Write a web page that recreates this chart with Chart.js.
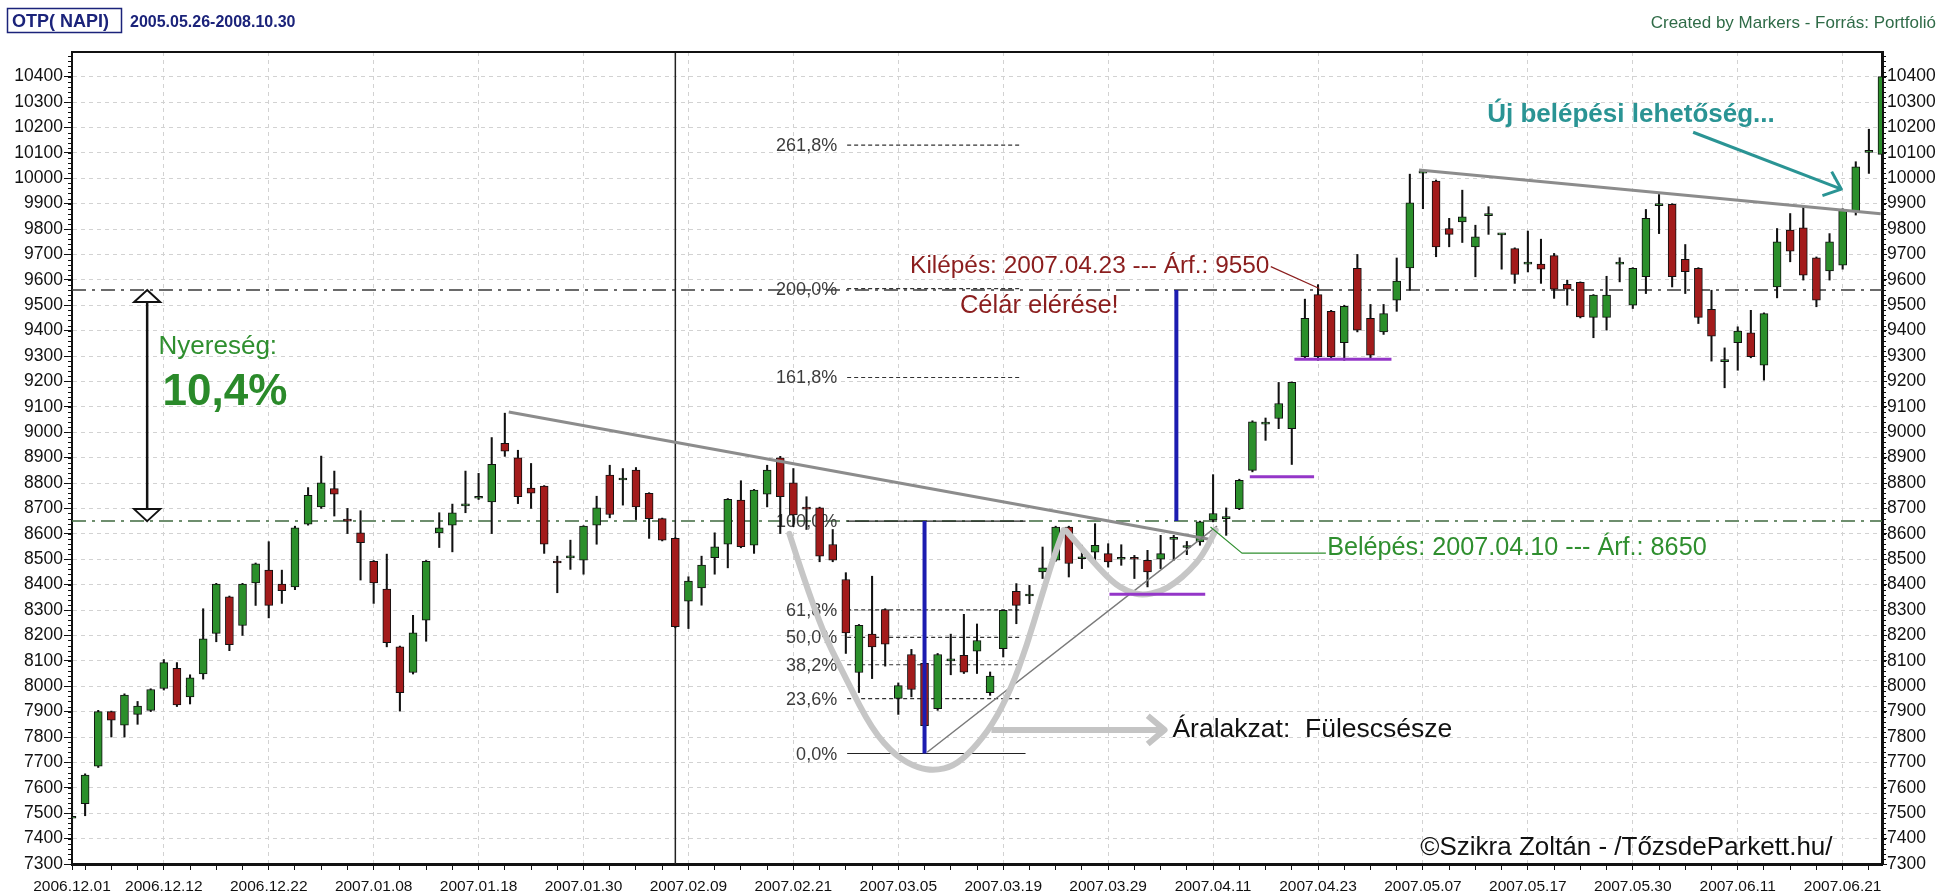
<!DOCTYPE html>
<html>
<head>
<meta charset="utf-8">
<title>OTP (NAPI)</title>
<script src="https://cdn.jsdelivr.net/npm/chart.js@4.4.1/dist/chart.umd.min.js"></script>
<style>
  html, body { margin: 0; padding: 0; background: #fff; }
  canvas { display: block; }
</style>
</head>
<body>
<canvas id="chart" width="1957" height="896"></canvas>
<script>
// napi gyertyák: 2006.12.01 - 2007.06.26
const dates = [
  '2006.12.01','2006.12.04','2006.12.05','2006.12.06','2006.12.07','2006.12.08','2006.12.11','2006.12.12','2006.12.13','2006.12.14',
  '2006.12.15','2006.12.18','2006.12.19','2006.12.20','2006.12.21','2006.12.22','2006.12.27','2006.12.28','2006.12.29','2007.01.02',
  '2007.01.03','2007.01.04','2007.01.05','2007.01.08','2007.01.09','2007.01.10','2007.01.11','2007.01.12','2007.01.15','2007.01.16',
  '2007.01.17','2007.01.18','2007.01.19','2007.01.22','2007.01.23','2007.01.24','2007.01.25','2007.01.26','2007.01.29','2007.01.30',
  '2007.01.31','2007.02.01','2007.02.02','2007.02.05','2007.02.06','2007.02.07','2007.02.08','2007.02.09','2007.02.12','2007.02.13',
  '2007.02.14','2007.02.15','2007.02.16','2007.02.19','2007.02.20','2007.02.21','2007.02.22','2007.02.23','2007.02.26','2007.02.27',
  '2007.02.28','2007.03.01','2007.03.02','2007.03.05','2007.03.06','2007.03.07','2007.03.08','2007.03.09','2007.03.12','2007.03.13',
  '2007.03.14','2007.03.19','2007.03.20','2007.03.21','2007.03.22','2007.03.23','2007.03.26','2007.03.27','2007.03.28','2007.03.29',
  '2007.03.30','2007.04.02','2007.04.03','2007.04.04','2007.04.05','2007.04.06','2007.04.10','2007.04.11','2007.04.12','2007.04.13',
  '2007.04.16','2007.04.17','2007.04.18','2007.04.19','2007.04.20','2007.04.23','2007.04.24','2007.04.25','2007.04.26','2007.04.27',
  '2007.05.02','2007.05.03','2007.05.04','2007.05.07','2007.05.08','2007.05.09','2007.05.10','2007.05.11','2007.05.14','2007.05.15',
  '2007.05.16','2007.05.17','2007.05.18','2007.05.21','2007.05.22','2007.05.23','2007.05.24','2007.05.25','2007.05.29','2007.05.30',
  '2007.05.31','2007.06.01','2007.06.04','2007.06.05','2007.06.06','2007.06.07','2007.06.08','2007.06.11','2007.06.12','2007.06.13',
  '2007.06.14','2007.06.15','2007.06.18','2007.06.19','2007.06.20','2007.06.21','2007.06.22','2007.06.25','2007.06.26'
];

const opens = [
  7480,7538,7685,7900,7847,7889,7905,7991,8070,7958,
  8048,8208,8352,8239,8407,8457,8402,8391,8638,8706,
  8778,8655,8604,8492,8382,8155,8054,8260,8604,8634,
  8710,8740,8726,8956,8899,8780,8788,8490,8505,8496,
  8634,8831,8812,8851,8759,8660,8582,8335,8387,8506,
  8559,8733,8555,8756,8899,8801,8700,8702,8558,8420,
  8054,8205,8302,7952,8125,8090,7912,8100,8122,8138,
  7975,8148,8374,8355,8450,8496,8627,8502,8528,8522,
  8500,8503,8496,8500,8578,8546,8568,8655,8660,8699,
  8850,9032,9054,9014,9297,9542,9476,9353,9645,9448,
  9395,9520,9647,10020,9989,9802,9828,9730,9853,9777,
  9723,9662,9662,9695,9582,9590,9452,9452,9662,9500,
  9612,9892,9897,9681,9645,9484,9278,9353,9391,9264,
  9572,9796,9805,9687,9635,9658,9868,10102,10094
];
const highs = [
  7600,7655,7905,7902,7970,7940,7990,8105,8093,8045,
  8305,8405,8355,8405,8485,8569,8457,8630,8782,8906,
  8847,8700,8691,8495,8520,8158,8279,8495,8683,8717,
  8847,8838,8979,9075,8929,8877,8790,8512,8575,8632,
  8748,8870,8857,8861,8762,8662,8585,8431,8512,8604,
  8739,8809,8775,8870,8905,8857,8746,8705,8617,8447,
  8243,8433,8305,8013,8145,8095,8129,8205,8283,8245,
  8056,8300,8404,8397,8548,8630,8630,8555,8640,8561,
  8557,8515,8535,8594,8594,8570,8650,8833,8702,8815,
  9045,9056,9196,9198,9524,9581,9480,9500,9700,9503,
  9503,9686,10016,10030,9993,9842,9953,9815,9888,9781,
  9726,9792,9760,9704,9599,9592,9542,9614,9687,9648,
  9877,9936,9900,9739,9648,9559,9332,9415,9480,9470,
  9802,9861,9891,9690,9782,9880,10065,10193,10405
];
const lows = [
  7440,7490,7680,7800,7800,7850,7900,7985,7920,7930,
  8028,8175,8140,8200,8318,8269,8326,8380,8634,8700,
  8670,8601,8418,8326,8155,7902,8048,8177,8546,8529,
  8683,8735,8601,8905,8719,8700,8523,8368,8460,8441,
  8559,8663,8713,8656,8582,8572,8230,8227,8319,8441,
  8466,8545,8523,8706,8601,8628,8617,8490,8490,8129,
  7975,8030,8079,7889,7958,7740,7905,8045,8050,8050,
  7964,8115,8246,8325,8424,8492,8430,8463,8489,8469,
  8476,8424,8391,8463,8496,8518,8555,8647,8594,8695,
  8844,8968,9014,8873,9293,9283,9290,9283,9395,9293,
  9385,9476,9559,9880,9691,9730,9747,9612,9779,9642,
  9586,9631,9586,9527,9500,9450,9372,9402,9592,9487,
  9546,9782,9572,9546,9428,9280,9175,9244,9293,9205,
  9529,9671,9599,9494,9599,9642,9855,10019,10019
];
const closes = [
  7485,7650,7900,7866,7965,7922,7987,8093,7926,8033,
  8187,8402,8164,8402,8482,8318,8376,8624,8752,8801,
  8756,8650,8565,8407,8171,7975,8210,8492,8624,8683,
  8714,8745,8874,8925,8746,8760,8559,8485,8510,8630,
  8702,8676,8815,8706,8660,8575,8234,8414,8477,8549,
  8736,8549,8772,8851,8746,8674,8697,8512,8496,8210,
  8240,8155,8166,8002,7987,7845,8125,8105,8055,8180,
  8040,8299,8318,8360,8466,8627,8483,8506,8555,8489,
  8503,8500,8450,8522,8582,8550,8647,8680,8664,8811,
  9041,9036,9113,9196,9448,9297,9297,9496,9402,9303,
  9467,9595,9903,10023,9730,9779,9848,9769,9857,9780,
  9621,9666,9642,9563,9563,9454,9540,9540,9666,9645,
  9842,9896,9612,9632,9452,9378,9282,9398,9297,9467,
  9750,9713,9618,9520,9750,9878,10045,10106,10400
];

// tengelyfeliratok
const labelIdx = [0, 7, 15, 23, 31, 39, 47, 55, 63, 71, 79, 87, 95, 103, 111, 119, 127, 135];
const priceTicks = [7300, 7400, 7500, 7600, 7700, 7800, 7900, 8000, 8100, 8200, 8300, 8400, 8500, 8600, 8700, 8800,
  8900, 9000, 9100, 9200, 9300, 9400, 9500, 9600, 9700, 9800, 9900, 10000, 10100, 10200, 10300, 10400];
const yMin = 7300, yMax = 10497;

// rajzolt elemzés (index, árfolyam)
const exitLevel = 9560, entryLevel = 8650;
const splitIndex = 46;
const fibLow = 7735, fibHigh = 8650;
const fibLevels = [0, 23.6, 38.2, 50, 61.8, 100, 161.8, 200, 261.8];
const fibFrom = 59.1, fibTo = 72.4;
const trendOld = [[33.3, 9080], [86.8, 8578]];
const trendNew = [[102.7, 10032], [137.9, 9860]];
const supportLine = [[65.2, 7740], [87.3, 8630]];
const cupPath = [[54.7, 8600], [56.8, 8260], [59.1, 8020], [61.0, 7830], [62.8, 7725], [64.5, 7678], [65.8, 7668],
  [67.2, 7685], [68.6, 7745], [70.2, 7850], [71.6, 7990], [72.8, 8160], [73.9, 8350], [74.8, 8500], [75.6, 8615]];
const handlePath = [[75.8, 8612], [77.5, 8510], [79.3, 8410], [80.5, 8372], [81.6, 8358], [83.0, 8372], [84.1, 8406],
  [85.2, 8455], [86.2, 8515], [87.2, 8614]];
const targetBars = [[65, entryLevel, fibLow], [84.2, entryLevel, exitLevel]];
const purpleLevels = [[79.1, 86.4, 8362], [89.8, 94.7, 8825], [93.2, 100.6, 9287]];
const gainArrowIndex = 5.73;
const patternArrow = [[70.1, 7828], [83.3, 7828]];
const newEntryArrow = [[123.6, 10181], [134.9, 9957]];
const exitLeader = [[91.4, 9652], [95.1, 9566]];
const entryLeader = [[86.8, 8627], [89.2, 8524], [95.6, 8524]];
const notes = [
  ['Nyereség:', 6.6, 9308, 26, '#2f8f2f', 'normal'],
  ['10,4%', 6.9, 9107, 44, '#2a8a2a', 'bold'],
  ['Kilépés: 2007.04.23 --- Árf.: 9550', 63.9, 9627, 24.4, '#8b1e1e', 'normal'],
  ['Célár elérése!', 67.7, 9469, 25.5, '#8b1e1e', 'normal'],
  ['Belépés: 2007.04.10 --- Árf.: 8650', 95.7, 8517, 25.2, '#2f8f2f', 'normal'],
  ['Új belépési lehetőség...', 107.9, 10221, 26, '#2a9494', 'bold'],
  ['Áralakzat:  Fülescsésze', 83.9, 7800, 26.5, '#111', 'normal'],
  ['©Szikra Zoltán - /TőzsdeParkett.hu/', 102.8, 7335, 26, '#111', 'normal']
];

const FONT = '"Liberation Sans", Arial, sans-serif';
const upColor = '#2b8f2b', downColor = '#a31b1b';
const candleColors = opens.map((o, i) => closes[i] >= o ? upColor : downColor);

function strokePath(ctx, pts, color, width, dash) {
  ctx.save();
  ctx.strokeStyle = color;
  ctx.lineWidth = width;
  ctx.setLineDash(dash || []);
  ctx.lineJoin = 'round';
  ctx.beginPath();
  pts.forEach((p, k) => k ? ctx.lineTo(p[0], p[1]) : ctx.moveTo(p[0], p[1]));
  ctx.stroke();
  ctx.restore();
}

function smoothPath(ctx, pts, color, width) {
  ctx.save();
  ctx.strokeStyle = color;
  ctx.lineWidth = width;
  ctx.lineCap = 'round';
  ctx.beginPath();
  ctx.moveTo(pts[0][0], pts[0][1]);
  for (let k = 1; k < pts.length - 1; k++) {
    const mx = (pts[k][0] + pts[k + 1][0]) / 2, my = (pts[k][1] + pts[k + 1][1]) / 2;
    ctx.quadraticCurveTo(pts[k][0], pts[k][1], mx, my);
  }
  const n = pts.length - 1;
  ctx.lineTo(pts[n][0], pts[n][1]);
  ctx.stroke();
  ctx.restore();
}

function chevron(ctx, from, to, len, color, width) {
  const a = Math.atan2(to[1] - from[1], to[0] - from[0]);
  const p1 = [to[0] - len * Math.cos(a - 0.7), to[1] - len * Math.sin(a - 0.7)];
  const p2 = [to[0] - len * Math.cos(a + 0.7), to[1] - len * Math.sin(a + 0.7)];
  strokePath(ctx, [p1, to, p2], color, width);
}

function text(ctx, s, x, y, size, color, weight, align) {
  ctx.save();
  ctx.font = (weight || 'normal') + ' ' + size + 'px ' + FONT;
  ctx.fillStyle = color;
  ctx.textAlign = align || 'left';
  ctx.textBaseline = 'alphabetic';
  ctx.fillText(s, x, y);
  ctx.restore();
}

const annotations = {
  id: 'annotations',
  beforeDatasetsDraw(chart) {
    const {ctx, chartArea: a, scales: {x, y}} = chart;
    const X = v => x.getPixelForValue(v), Y = v => y.getPixelForValue(v);
    ctx.save();
    ctx.beginPath();
    ctx.rect(a.left, a.top, a.right - a.left, a.bottom - a.top);
    ctx.clip();
    // vizszintes szintek
    strokePath(ctx, [[a.left, Y(exitLevel)], [a.right, Y(exitLevel)]], '#3a3a3a', 1.5, [14, 6, 3, 6]);
    strokePath(ctx, [[a.left, Y(entryLevel)], [a.right, Y(entryLevel)]], '#3f6a3f', 1.5, [14, 6, 3, 6]);
    // fuggoleges vonal
    strokePath(ctx, [[X(splitIndex), a.top], [X(splitIndex), a.bottom]], '#222', 1.5);
    // Fibonacci szintek
    fibLevels.forEach(l => {
      const p = fibLow + (fibHigh - fibLow) * l / 100;
      const solid = l === 0 || l === 100;
      const end = solid ? fibTo + 0.3 : fibTo;
      strokePath(ctx, [[X(fibFrom), Y(p)], [X(end), Y(p)]], solid ? '#222' : '#333', 1.2, solid ? [] : [4, 3]);
      text(ctx, l.toFixed(1).replace('.', ',') + '%', X(fibFrom) - 10, Y(p) + 6, 18, '#3c3c3c', 'normal', 'right');
    });
    ctx.restore();
  },
  afterDatasetsDraw(chart) {
    const {ctx, chartArea: a, scales: {x, y}} = chart;
    const X = v => x.getPixelForValue(v), Y = v => y.getPixelForValue(v);
    const P = pts => pts.map(p => [X(p[0]), Y(p[1])]);
    ctx.save();
    ctx.beginPath();
    ctx.rect(a.left, a.top, a.right - a.left, a.bottom - a.top);
    ctx.clip();

    // trendvonalak
    strokePath(ctx, P(trendOld), '#8c8c8c', 3);
    strokePath(ctx, P(trendNew), '#8c8c8c', 3);
    strokePath(ctx, P(supportLine), '#7a7a7a', 1.5);

    // csesze es fules
    smoothPath(ctx, P(cupPath), '#c6c6c6', 6);
    smoothPath(ctx, P(handlePath), '#c6c6c6', 6);

    // celar meres
    targetBars.forEach(b => strokePath(ctx, [[X(b[0]), Y(b[1])], [X(b[0]), Y(b[2])]], '#1c1cb0', 4));

    // lila tamaszok
    purpleLevels.forEach(l => strokePath(ctx, [[X(l[0]), Y(l[2])], [X(l[1]), Y(l[2])]], '#9436c8', 3));

    // nyereseg nyil
    const gx = X(gainArrowIndex), gt = Y(exitLevel), gb = Y(entryLevel);
    strokePath(ctx, [[gx, gt + 10], [gx, gb - 10]], '#111', 2.5);
    ctx.fillStyle = '#fff';
    ctx.strokeStyle = '#111';
    ctx.lineWidth = 2;
    ctx.beginPath(); ctx.moveTo(gx, gt); ctx.lineTo(gx + 13, gt + 12); ctx.lineTo(gx - 13, gt + 12); ctx.closePath(); ctx.fill(); ctx.stroke();
    ctx.beginPath(); ctx.moveTo(gx, gb); ctx.lineTo(gx + 13, gb - 12); ctx.lineTo(gx - 13, gb - 12); ctx.closePath(); ctx.fill(); ctx.stroke();

    // alakzat nyil
    const pa = P(patternArrow);
    strokePath(ctx, pa, '#c4c4c4', 6);
    chevron(ctx, pa[0], pa[1], 22, '#c4c4c4', 6);

    // uj belepes nyil
    const na = P(newEntryArrow);
    strokePath(ctx, na, '#2a9494', 3);
    chevron(ctx, na[0], na[1], 20, '#2a9494', 3);

    // mutato vonalak
    strokePath(ctx, P(exitLeader), '#8b1e1e', 1.2);
    strokePath(ctx, P(entryLeader), '#2f8f2f', 1.2);

    notes.forEach(n => text(ctx, n[0], X(n[1]), Y(n[2]), n[3], n[4], n[5]));
    ctx.restore();
  },
  afterDraw(chart) {
    const {ctx, chartArea: a, scales: {y}} = chart;
    // keret teteje
    strokePath(ctx, [[a.left - 1, a.top], [a.right + 1, a.top]], '#111', 2);
    // suru kis osztasok a fuggoleges tengelyeken
    for (let v = yMin; v <= yMax; v += 20) {
      const py = Math.round(y.getPixelForValue(v)) + 0.5;
      strokePath(ctx, [[a.left - 4, py], [a.left, py]], '#111', 1);
      strokePath(ctx, [[a.right, py], [a.right + 4, py]], '#111', 1);
    }
    // fejlec
    ctx.save();
    ctx.strokeStyle = '#1b237a';
    ctx.lineWidth = 1.5;
    ctx.strokeRect(7.5, 8.5, 114, 24);
    ctx.restore();
    text(ctx, 'OTP( NAPI)', 12, 27, 18, '#1b237a', 'bold');
    text(ctx, '2005.05.26-2008.10.30', 130, 27, 16, '#1b237a', 'bold');
    text(ctx, 'Created by Markers - Forrás: Portfolió', 1936, 28, 17, '#2f6b47', 'normal', 'right');
  }
};

const majors = new Set(labelIdx);

document.addEventListener('DOMContentLoaded', function () {
  const ctx = document.getElementById('chart').getContext('2d');
  const setPriceTicks = s => { s.ticks = priceTicks.map(v => ({ value: v })); };
  new Chart(ctx, {
    type: 'bar',
    data: {
      labels: dates,
      datasets: [{
        label: 'kanóc',
        data: lows.map((l, i) => [l, highs[i]]),
        backgroundColor: '#111',
        borderWidth: 0,
        barThickness: 1.4,
        grouped: false,
        order: 2
      }, {
        label: 'test',
        data: opens.map((o, i) => [o, closes[i]]),
        backgroundColor: candleColors,
        borderColor: '#111',
        borderWidth: 1,
        borderSkipped: false,
        barThickness: 8,
        minBarLength: 2,
        grouped: false,
        order: 1
      }]
    },
    options: {
      responsive: false,
      animation: false,
      layout: { padding: { top: 52, left: 0, right: 0, bottom: 0 } },
      plugins: { legend: { display: false }, tooltip: { enabled: false } },
      scales: {
        x: {
          type: 'category',
          offset: false,
          grid: {
            offset: false,
            color: c => majors.has(c.index) && c.index > 0 ? '#d2d2d2' : 'rgba(0,0,0,0)',
            tickColor: c => (c.index % 2 === 1 || c.index === 0) ? '#111' : 'rgba(0,0,0,0)',
            tickLength: 6,
            tickBorderDash: []
          },
          border: { color: '#111', width: 3, dash: [4, 4] },
          ticks: {
            autoSkip: false,
            maxRotation: 0,
            minRotation: 0,
            padding: 7,
            color: '#111',
            font: { family: FONT, size: 15.5 },
            callback: (v, i) => majors.has(i) ? dates[i] : ''
          },
          afterFit: s => { s.height = 32; }
        },
        y: {
          position: 'left',
          min: yMin,
          max: yMax,
          afterBuildTicks: setPriceTicks,
          grid: { color: '#d2d2d2', tickColor: '#111', tickLength: 8, tickBorderDash: [] },
          border: { color: '#111', width: 2, dash: [4, 4] },
          ticks: { autoSkip: false, padding: 1, color: '#111', font: { family: FONT, size: 17.5 }, callback: v => String(v) },
          afterFit: s => { s.width = 72; }
        },
        y2: {
          position: 'right',
          min: yMin,
          max: yMax,
          afterBuildTicks: setPriceTicks,
          grid: { drawOnChartArea: false, tickColor: '#111', tickLength: 5, tickBorderDash: [] },
          border: { color: '#111', width: 3 },
          ticks: { autoSkip: false, padding: 0, color: '#111', font: { family: FONT, size: 17.5 }, callback: v => String(v) },
          afterFit: s => { s.width = 75; }
        }
      }
    },
    plugins: [annotations]
  });
});
</script>
</body>
</html>
